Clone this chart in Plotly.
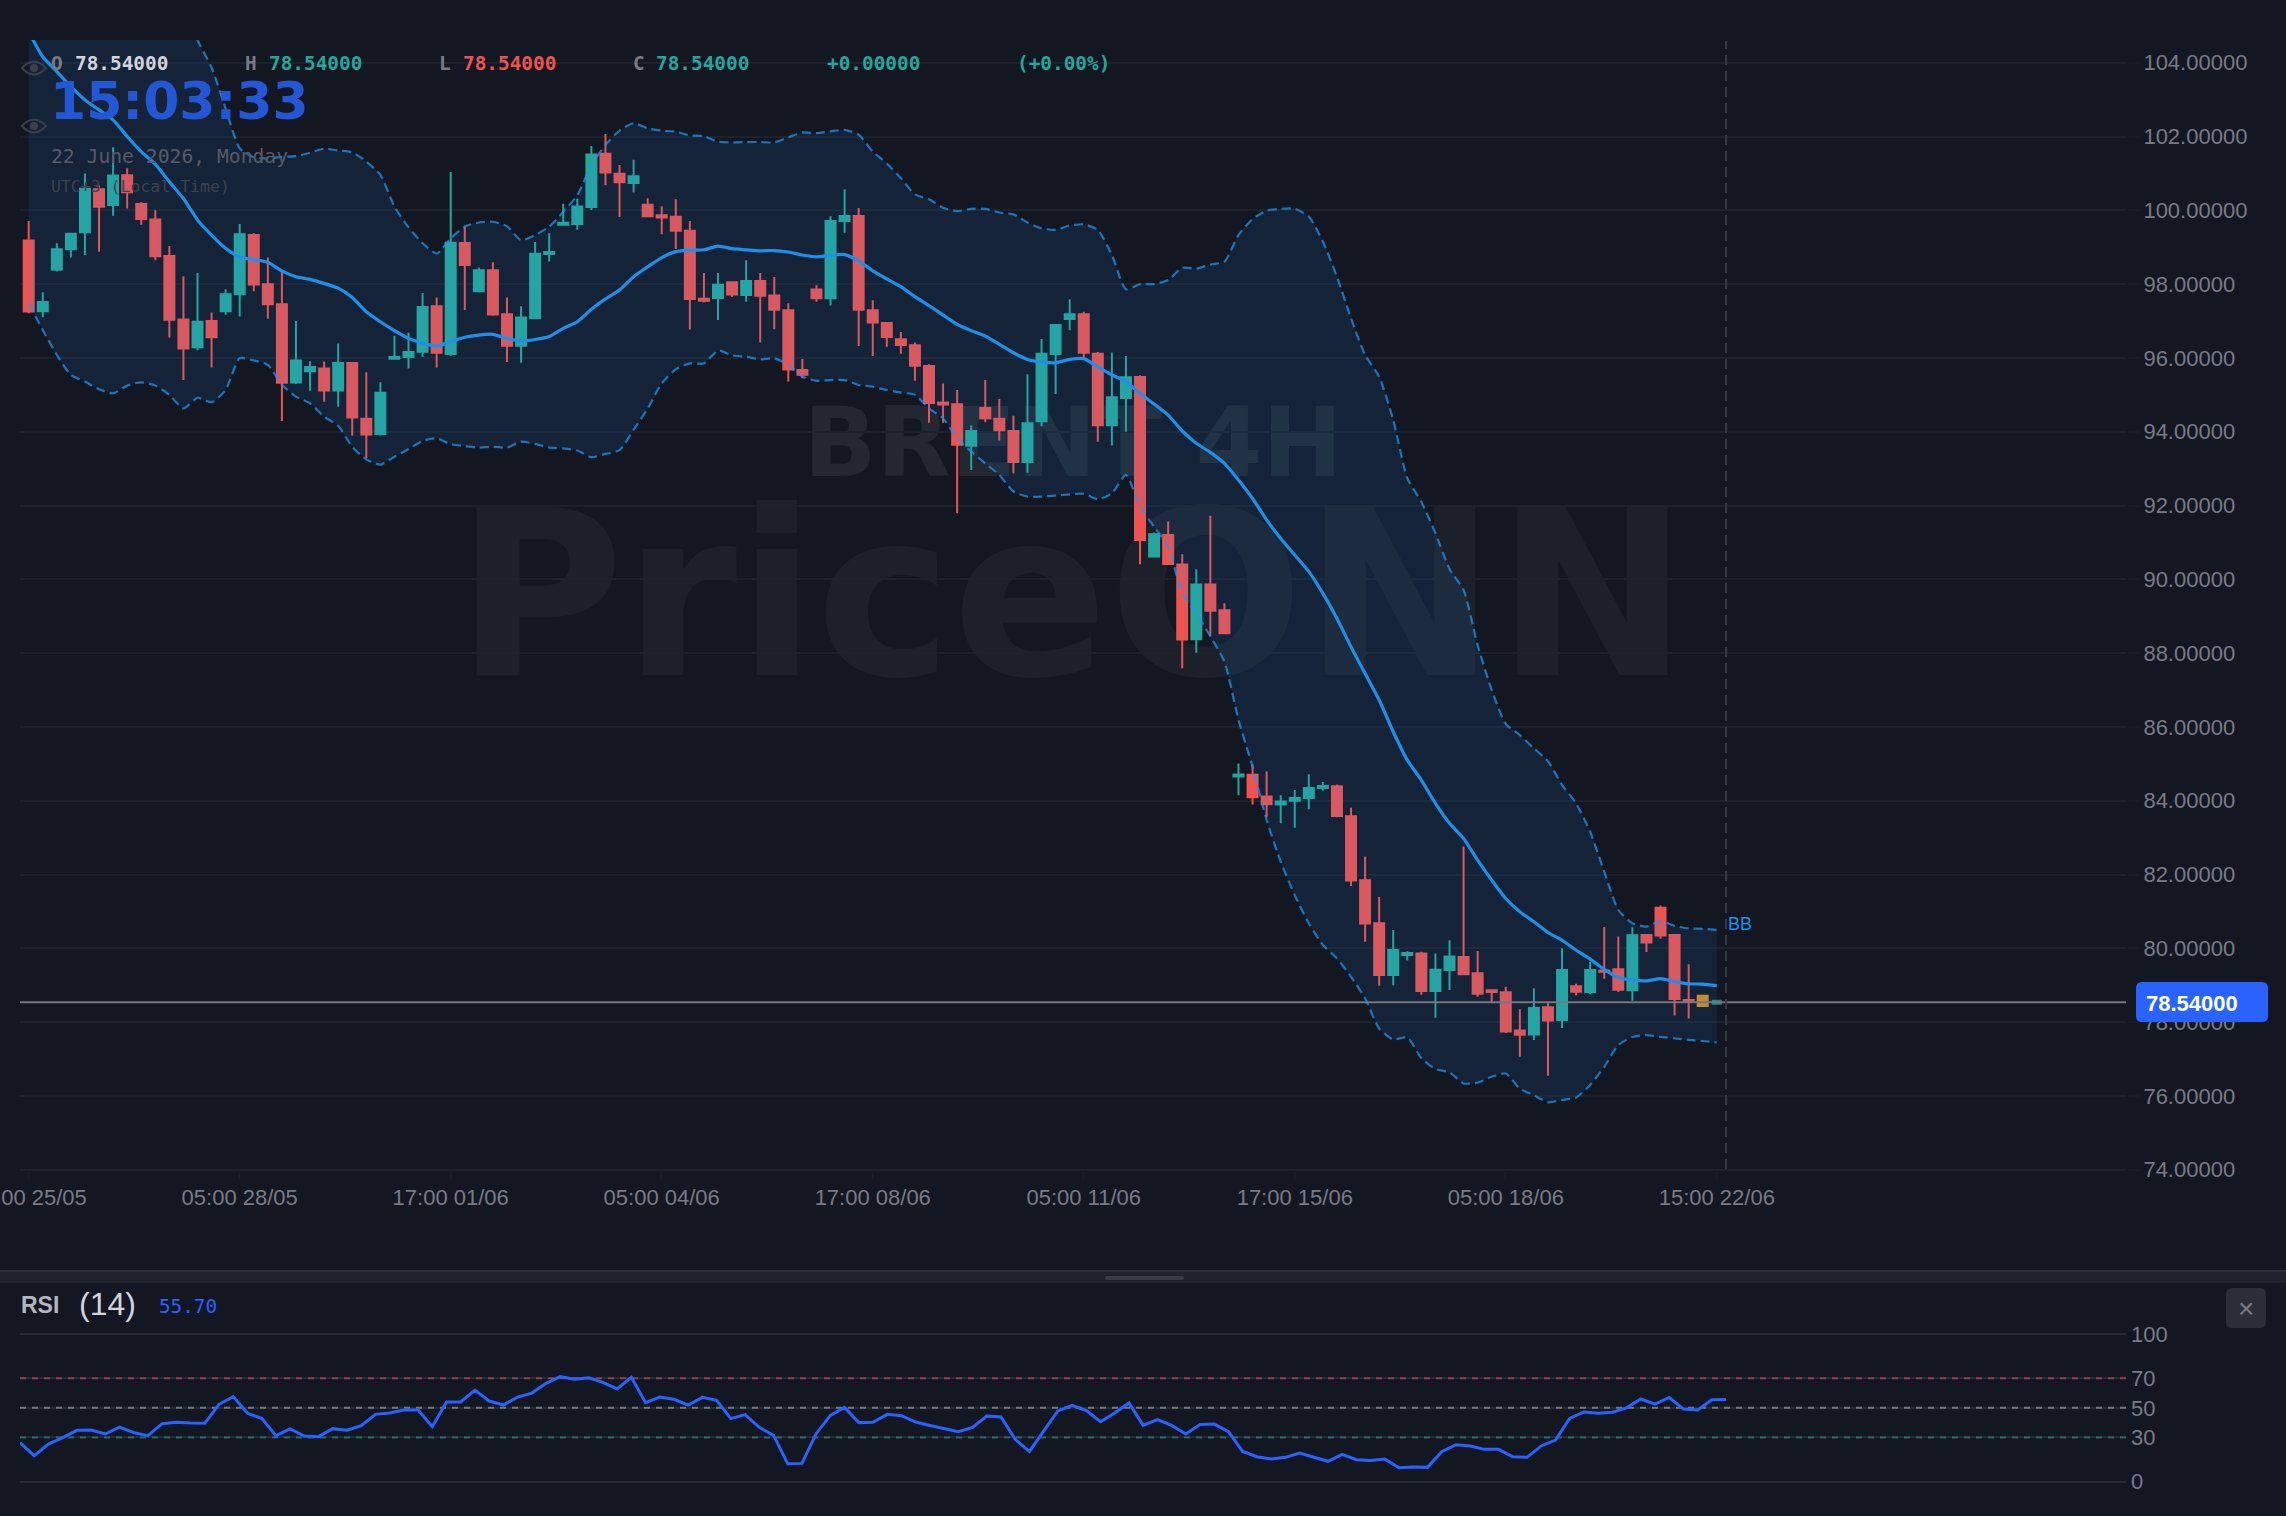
import plotly.graph_objects as go

W, H = 2286, 1516
BG = "#131722"
TEAL = "#26a69a"
RED = "#ef5350"
BLUE = "#2962ff"
BAND = "#1e90ea"
MUTED = "#787b86"

# Candle prices, four-hour bars, oldest first
open_ = [
    99.21, 97.24, 98.36, 98.92, 99.38, 100.60, 100.12, 100.98, 100.20, 99.78,
    98.79, 97.07, 96.26, 97.03, 97.24, 97.70, 99.36, 98.02, 97.48, 95.31,
    95.61, 95.74, 95.09, 95.89, 94.38, 93.91, 95.95, 96.00, 96.14, 97.43,
    96.08, 99.14, 97.78, 98.40, 97.21, 96.30, 97.05, 98.79, 99.58, 99.60,
    100.06, 101.56, 101.02, 100.71, 100.18, 99.89, 99.85, 99.47, 97.63, 97.60,
    98.08, 97.68, 98.11, 97.72, 97.32, 95.70, 97.88, 97.59, 99.68, 99.87,
    97.32, 96.97, 96.53, 96.37, 95.81, 94.82, 94.77, 93.59, 94.67, 94.38,
    94.05, 93.15, 94.26, 96.08, 97.03, 97.21, 96.14, 94.15, 94.89, 95.51,
    90.59, 91.23, 90.43, 88.35, 89.89, 89.19, 84.63, 84.73, 84.14, 83.87,
    83.97, 84.05, 84.32, 84.42, 83.61, 81.87, 80.71, 79.25, 79.79, 79.89,
    78.82, 79.39, 79.79, 79.35, 78.89, 78.84, 77.80, 77.64, 78.43, 78.03,
    79.00, 78.79, 79.43, 79.46, 78.84, 80.39, 81.13, 80.39, 78.63, 78.74,
    78.54,
]
high = [
    99.71, 97.78, 99.11, 99.39, 101.00, 100.67, 101.71, 101.14, 100.22, 100.00,
    99.03, 98.21, 98.30, 97.23, 97.86, 99.63, 99.38, 98.72, 98.38, 97.00,
    95.91, 95.90, 96.39, 95.89, 95.61, 95.34, 96.60, 96.68, 97.76, 97.64,
    101.04, 99.57, 98.45, 98.59, 97.64, 97.40, 99.14, 99.38, 100.18, 100.31,
    101.74, 102.07, 101.23, 101.37, 100.33, 100.11, 100.30, 99.71, 98.30, 98.30,
    98.08, 98.65, 98.30, 98.19, 97.48, 95.97, 97.97, 99.84, 100.57, 100.06,
    97.56, 96.97, 96.70, 96.42, 95.83, 95.31, 95.13, 94.17, 95.40, 94.89,
    94.43, 95.56, 96.51, 96.92, 97.59, 97.25, 96.16, 96.15, 96.05, 95.53,
    91.27, 91.57, 90.68, 90.27, 91.72, 89.35, 85.01, 84.99, 84.79, 84.15,
    84.29, 84.72, 84.51, 84.44, 83.81, 82.49, 81.39, 80.50, 79.92, 79.91,
    79.86, 80.22, 82.76, 79.93, 78.89, 78.96, 78.35, 78.92, 78.51, 80.00,
    79.04, 79.64, 80.58, 80.32, 80.57, 80.39, 81.16, 80.39, 79.57, 78.74,
    78.54,
]
low = [
    97.21, 97.10, 98.34, 98.72, 98.79, 98.88, 99.85, 100.05, 99.61, 98.65,
    96.55, 95.40, 96.21, 95.74, 97.17, 97.12, 97.81, 97.06, 94.29, 95.29,
    95.11, 94.81, 94.68, 93.89, 93.28, 93.90, 95.95, 95.71, 96.03, 95.74,
    96.06, 97.30, 97.77, 97.14, 95.89, 95.87, 97.05, 98.61, 99.58, 99.47,
    100.01, 100.68, 99.82, 100.48, 99.81, 99.35, 98.95, 96.77, 97.50, 97.03,
    97.65, 97.52, 96.42, 96.78, 95.36, 95.45, 97.52, 97.42, 99.39, 96.32,
    96.05, 96.30, 96.11, 95.38, 94.24, 94.24, 91.79, 92.96, 94.26, 93.76,
    92.87, 92.89, 94.15, 95.02, 96.75, 95.99, 93.73, 93.63, 94.00, 90.41,
    90.59, 90.39, 87.59, 88.01, 88.46, 88.51, 84.15, 83.90, 83.55, 83.39,
    83.27, 83.77, 84.27, 83.55, 81.69, 80.18, 78.99, 79.00, 79.67, 78.74,
    78.12, 78.87, 79.27, 78.69, 78.54, 77.71, 77.06, 77.52, 76.55, 77.84,
    78.72, 78.76, 79.18, 78.82, 78.58, 79.90, 80.26, 78.18, 78.10, 78.41,
    78.54,
]
close = [
    97.23, 97.54, 98.97, 99.39, 100.61, 100.07, 100.97, 100.46, 99.74, 98.73,
    97.01, 96.23, 97.01, 96.53, 97.75, 99.38, 97.96, 97.43, 95.30, 95.96,
    95.78, 95.09, 95.89, 94.36, 93.90, 95.08, 96.05, 96.19, 97.41, 96.11,
    99.15, 98.49, 98.40, 97.15, 96.30, 97.12, 98.85, 98.90, 99.69, 100.13,
    101.54, 101.00, 100.73, 100.95, 99.81, 99.78, 99.42, 97.57, 97.52, 98.01,
    97.69, 98.11, 97.66, 97.28, 95.66, 95.52, 97.59, 99.74, 99.87, 97.28,
    96.93, 96.54, 96.32, 95.76, 94.75, 94.71, 93.62, 94.05, 94.34, 94.01,
    93.15, 94.26, 96.14, 96.92, 97.21, 96.11, 94.15, 94.96, 95.50, 91.04,
    91.25, 90.39, 88.34, 89.89, 89.12, 88.51, 84.74, 84.07, 83.88, 84.01,
    84.10, 84.37, 84.43, 83.56, 81.81, 80.65, 79.25, 79.98, 79.90, 78.82,
    79.45, 79.81, 79.27, 78.74, 78.79, 77.72, 77.63, 78.41, 78.02, 79.44,
    78.80, 79.44, 79.34, 78.85, 80.38, 80.13, 80.32, 78.60, 78.55, 78.41,
    78.54,
]

# Bollinger bands (20, 2)
bb_upper = [
    112.20, 111.56, 111.44, 111.16, 110.62, 110.29, 109.86, 108.75, 107.84, 107.25,
    106.54, 106.01, 104.62, 103.87, 102.76, 101.68, 101.44, 101.41, 101.45, 101.47,
    101.56, 101.67, 101.62, 101.57, 101.32, 100.96, 100.10, 99.54, 99.11, 98.83,
    99.24, 99.56, 99.67, 99.69, 99.57, 99.19, 99.33, 99.56, 99.96, 100.41,
    101.23, 101.77, 102.16, 102.36, 102.22, 102.16, 102.13, 102.03, 102.01, 101.86,
    101.84, 101.85, 101.85, 101.84, 101.98, 102.11, 102.09, 102.14, 102.18, 102.05,
    101.59, 101.27, 100.87, 100.43, 100.30, 100.07, 99.98, 100.04, 100.04, 99.94,
    99.89, 99.67, 99.51, 99.47, 99.59, 99.62, 99.47, 98.79, 97.86, 98.00,
    98.00, 98.11, 98.44, 98.42, 98.53, 98.61, 99.33, 99.76, 99.99, 100.04,
    100.04, 99.83, 99.15, 98.20, 97.07, 96.08, 95.49, 94.32, 92.74, 92.10,
    91.25, 90.28, 89.71, 88.22, 87.00, 86.08, 85.78, 85.42, 85.07, 84.43,
    83.93, 83.16, 82.08, 81.04, 80.68, 80.59, 80.74, 80.61, 80.54, 80.53,
    80.50,
]
bb_middle = [
    104.84, 104.16, 103.76, 103.35, 102.99, 102.72, 102.45, 102.00, 101.59, 101.25,
    100.77, 100.32, 99.74, 99.33, 98.97, 98.73, 98.67, 98.59, 98.36, 98.20,
    98.13, 98.02, 97.89, 97.64, 97.25, 96.98, 96.74, 96.53, 96.40, 96.32,
    96.44, 96.56, 96.62, 96.64, 96.53, 96.46, 96.50, 96.58, 96.80, 96.98,
    97.32, 97.60, 97.84, 98.20, 98.47, 98.72, 98.88, 98.92, 98.93, 99.03,
    98.96, 98.93, 98.90, 98.91, 98.87, 98.79, 98.74, 98.78, 98.80, 98.63,
    98.36, 98.14, 97.93, 97.66, 97.42, 97.16, 96.91, 96.74, 96.59, 96.37,
    96.14, 95.96, 95.89, 95.87, 95.96, 95.98, 95.76, 95.54, 95.36, 95.04,
    94.75, 94.45, 94.02, 93.69, 93.44, 93.14, 92.69, 92.19, 91.61, 91.11,
    90.66, 90.21, 89.62, 88.94, 88.17, 87.45, 86.73, 85.87, 85.10, 84.56,
    83.93, 83.39, 82.98, 82.39, 81.85, 81.35, 80.99, 80.72, 80.43, 80.22,
    79.95, 79.71, 79.43, 79.21, 79.14, 79.12, 79.18, 79.10, 79.04, 79.03,
    78.99,
]
bb_lower = [
    97.48, 96.76, 96.08, 95.54, 95.36, 95.15, 95.04, 95.25, 95.34, 95.25,
    95.00, 94.63, 94.92, 94.80, 95.13, 95.99, 95.93, 95.81, 95.27, 94.95,
    94.77, 94.41, 94.16, 93.59, 93.25, 93.11, 93.32, 93.53, 93.75, 93.82,
    93.66, 93.61, 93.57, 93.59, 93.57, 93.73, 93.67, 93.57, 93.55, 93.49,
    93.31, 93.40, 93.50, 94.05, 94.63, 95.31, 95.69, 95.85, 95.85, 96.20,
    96.07, 96.03, 95.96, 95.99, 95.81, 95.49, 95.38, 95.40, 95.40, 95.27,
    95.22, 95.13, 95.06, 95.00, 94.63, 94.36, 93.82, 93.46, 93.14, 92.83,
    92.38, 92.24, 92.24, 92.27, 92.30, 92.32, 92.17, 92.33, 92.83, 91.97,
    91.43, 90.88, 89.62, 89.08, 88.45, 87.77, 86.19, 84.92, 83.48, 82.35,
    81.44, 80.68, 80.09, 79.73, 79.23, 78.64, 77.83, 77.53, 77.59, 77.02,
    76.73, 76.64, 76.34, 76.36, 76.52, 76.61, 76.20, 76.02, 75.83, 75.89,
    75.96, 76.30, 76.79, 77.38, 77.60, 77.65, 77.60, 77.56, 77.52, 77.49,
    77.45,
]

rsi = [
    26.4, 17.6, 25.5, 29.8, 34.8, 35.0, 32.3, 37.0, 33.2, 31.2,
    39.3, 40.2, 39.7, 39.5, 52.4, 57.6, 46.3, 42.9, 31.2, 35.7,
    30.9, 30.5, 35.9, 34.8, 37.9, 45.6, 46.5, 48.5, 48.5, 37.2,
    54.0, 54.0, 62.0, 54.6, 51.9, 57.3, 60.0, 66.6, 71.1, 69.3,
    70.4, 67.3, 62.8, 70.7, 53.5, 57.3, 55.8, 51.9, 57.1, 55.1,
    42.7, 45.4, 36.8, 31.4, 12.2, 12.4, 32.5, 44.9, 50.3, 40.0,
    40.2, 45.6, 44.7, 40.4, 38.1, 35.9, 33.9, 36.8, 44.5, 43.8,
    28.7, 20.5, 33.9, 47.9, 51.7, 48.1, 40.6, 46.5, 53.3, 38.1,
    42.0, 38.1, 32.3, 38.8, 39.0, 33.9, 20.5, 16.9, 15.3, 16.5,
    19.4, 16.7, 13.8, 18.5, 14.9, 14.4, 15.3, 9.5, 9.9, 9.7,
    20.3, 25.0, 24.2, 21.9, 21.9, 16.9, 16.5, 24.2, 28.2, 42.9,
    47.2, 46.4, 47.0, 50.0, 56.0, 52.5, 57.0, 49.2, 48.6, 55.5,
    55.70,
]

x_tick_bars = [0, 15, 30, 45, 60, 75, 90, 105, 120]
x_tick_labels = ["17:00 25/05", "05:00 28/05", "17:00 01/06", "05:00 04/06", "17:00 08/06",
                 "05:00 11/06", "17:00 15/06", "05:00 18/06", "15:00 22/06"]
price_ticks = [74, 76, 78, 80, 82, 84, 86, 88, 90, 92, 94, 96, 98, 100, 102, 104]
rsi_ticks = [0, 30, 50, 70, 100]
rsi_levels = {70: "rgba(239,83,80,0.55)", 50: "rgba(150,152,162,0.7)", 30: "rgba(38,166,154,0.55)"}
last_price = 78.54
cursor_bar = 120.66

bars = list(range(len(open_)))
assert all(len(s) == 121 for s in (open_, high, low, close, bb_upper, bb_middle, bb_lower, rsi))


def px(x):
    return x / W


def py(y):
    return 1 - y / H


# The 2px candle outline straddles the body edge, so pull the body in by half its width
HALF_STROKE = 0.027


def body(o, c):
    return (o + HALF_STROKE, c - HALF_STROKE) if c >= o else (o - HALF_STROKE, c + HALF_STROKE)


bodies = [body(o, c) for o, c in zip(open_, close)]
fig = go.Figure()

N_REGULAR = 119
fig.add_trace(go.Candlestick(
    x=bars[:N_REGULAR], open=[b[0] for b in bodies[:N_REGULAR]], high=high[:N_REGULAR],
    low=low[:N_REGULAR], close=[b[1] for b in bodies[:N_REGULAR]],
    increasing=dict(line=dict(color=TEAL, width=2), fillcolor=TEAL),
    decreasing=dict(line=dict(color=RED, width=2), fillcolor=RED),
    hoverinfo="skip", showlegend=False))
# The bar before the live one stands out in amber
fig.add_trace(go.Candlestick(
    x=[bars[119]], open=[bodies[119][0]], high=[high[119]], low=[low[119]], close=[bodies[119][1]],
    increasing=dict(line=dict(color="#da8a1b", width=2), fillcolor="#da8a1b"),
    decreasing=dict(line=dict(color="#da8a1b", width=2), fillcolor="#da8a1b"),
    hoverinfo="skip", showlegend=False))
# Live bar: all four prices are equal, so its thickness comes from the stroke
fig.add_trace(go.Candlestick(
    x=[bars[120]], open=[open_[120]], high=[high[120]], low=[low[120]], close=[close[120]],
    increasing=dict(line=dict(color="rgba(38,166,154,0.78)", width=5), fillcolor="rgba(38,166,154,0.78)"),
    decreasing=dict(line=dict(color="rgba(38,166,154,0.78)", width=5), fillcolor="rgba(38,166,154,0.78)"),
    hoverinfo="skip", showlegend=False))

band_line = dict(color="rgba(33,150,243,0.72)", width=2.2, dash="9px,5px", shape="spline", smoothing=0.6)
fig.add_trace(go.Scatter(x=bars, y=bb_upper, mode="lines", line=band_line, hoverinfo="skip", showlegend=False))
fig.add_trace(go.Scatter(x=bars, y=bb_lower, mode="lines", line=band_line, fill="tonexty",
                         fillcolor="rgba(33,150,243,0.1)", hoverinfo="skip", showlegend=False))
fig.add_trace(go.Scatter(x=bars, y=bb_middle, mode="lines",
                         line=dict(color=BAND, width=3.2, shape="spline", smoothing=0.6),
                         hoverinfo="skip", showlegend=False))

# RSI pane
for level, colour in rsi_levels.items():
    fig.add_trace(go.Scatter(x=[0, 148.13], y=[level, level], xaxis="x2", yaxis="y2", mode="lines",
                             line=dict(color=colour, width=2, dash="6px,6px"),
                             hoverinfo="skip", showlegend=False))
fig.add_trace(go.Scatter(x=bars, y=rsi, xaxis="x2", yaxis="y2", mode="lines",
                         line=dict(color=BLUE, width=3), hoverinfo="skip", showlegend=False))


def rounded(x0, y0, x1, y1, r):
    a, b, c, d = px(x0), px(x1), py(y0), py(y1)
    rx, ry = r / W, r / H
    return (f"M {a + rx},{c} L {b - rx},{c} Q {b},{c} {b},{c - ry} L {b},{d + ry} Q {b},{d} {b - rx},{d} "
            f"L {a + rx},{d} Q {a},{d} {a},{d + ry} L {a},{c - ry} Q {a},{c} {a + rx},{c} Z")


def eye(cx, cy):
    left, right = px(cx - 12), px(cx + 12)
    mid, up, down = py(cy), py(cy - 13), py(cy + 13)
    return [
        dict(type="path", xref="paper", yref="paper", path=f"M {left},{mid} Q {px(cx)},{up} {right},{mid} Q {px(cx)},{down} {left},{mid} Z",
             line=dict(color="#3a3f4b", width=2), fillcolor="rgba(0,0,0,0)"),
        dict(type="circle", xref="paper", yref="paper", x0=px(cx - 4), x1=px(cx + 4), y0=py(cy - 4), y1=py(cy + 4),
             line=dict(width=0), fillcolor="#3a3f4b"),
    ]


def watermark(text, cx, cy, size, colour):
    return dict(type="rect", xref="paper", yref="paper", layer="below",
                x0=px(cx - 700), x1=px(cx + 700), y0=py(cy - 150), y1=py(cy + 150),
                line=dict(width=0), fillcolor="rgba(0,0,0,0)",
                label=dict(text=text, textposition="middle center",
                           font=dict(family="DejaVu Sans", size=size, color=colour, weight="bold")))


shapes = [
    watermark("PriceONN", 1072, 578, 230, "rgba(255,255,255,0.04)"),
    watermark("BRENT 4H", 1073, 436, 96, "rgba(255,255,255,0.07)"),
    # Live price line and crosshair
    dict(type="line", xref="x", yref="y", x0=-0.62, x1=149.09, y0=last_price, y1=last_price,
         line=dict(color="#75777f", width=2)),
    dict(type="line", xref="x", yref="paper", x0=cursor_bar, x1=cursor_bar, y0=py(1169), y1=py(41),
         line=dict(color="#363a45", width=2, dash="10px,6px")),
    dict(type="path", xref="paper", yref="paper", path=rounded(2136, 982, 2268, 1022, 6),
         line=dict(width=0), fillcolor=BLUE),
    # Pane divider and its drag handle
    dict(type="rect", xref="paper", yref="paper", x0=0, x1=1, y0=py(1283), y1=py(1270),
         line=dict(width=0), fillcolor="#1e222d"),
    dict(type="rect", xref="paper", yref="paper", x0=0, x1=1, y0=py(1272), y1=py(1270),
         line=dict(width=0), fillcolor="#2a2e39"),
    dict(type="path", xref="paper", yref="paper", path=rounded(1105, 1276, 1184, 1280, 2),
         line=dict(width=0), fillcolor="#363a45"),
    # RSI close button
    dict(type="path", xref="paper", yref="paper", path=rounded(2226, 1288, 2266, 1328, 6),
         line=dict(width=0), fillcolor="#2a2e39"),
] + eye(34, 68) + eye(34, 126)


def label(text, x, y, size, colour, family="DejaVu Sans Mono", weight="normal", anchor="left"):
    return dict(text=text, x=px(x), y=py(y), xref="paper", yref="paper", xanchor=anchor, yanchor="middle",
                showarrow=False, borderpad=0,
                font=dict(family=family, size=size, color=colour, weight=weight))


MONO = "DejaVu Sans Mono"
SANS = "Liberation Sans"
annotations = [
    label("O", 50, 63, 19.4, MUTED, MONO, "bold"),
    label("78.54000", 74, 63, 19.4, "#d1d4dc", MONO, "bold"),
    label("H", 244, 63, 19.4, MUTED, MONO, "bold"),
    label("78.54000", 268, 63, 19.4, TEAL, MONO, "bold"),
    label("L", 438, 63, 19.4, MUTED, MONO, "bold"),
    label("78.54000", 462, 63, 19.4, RED, MONO, "bold"),
    label("C", 632, 63, 19.4, MUTED, MONO, "bold"),
    label("78.54000", 655, 63, 19.4, TEAL, MONO, "bold"),
    label("+0.00000", 826, 63, 19.4, TEAL, MONO, "bold"),
    label("(+0.00%)", 1016, 63, 19.4, TEAL, MONO, "bold"),
    label("15:03:33", 49, 101, 52, "#2457d6", "DejaVu Sans", "bold"),
    label("22 June 2026, Monday", 50, 157, 19.7, "#565b67"),
    label("UTC+3 (Local Time)", 50, 186, 16.5, "#3c424f"),
    label("BB", 1727, 924, 18, BAND, SANS),
    label("78.54000", 2145, 1003, 22, "#ffffff", SANS, "bold"),
    label("RSI", 20, 1305, 23, "#b2b5be", SANS, "bold"),
    label("(14)", 78, 1304, 32, "#d1d4dc", SANS),
    label("55.70", 158, 1306, 19.3, BLUE),
    label("×", 2246, 1308, 28, MUTED, SANS, anchor="center"),
]

fig.update_layout(
    width=W, height=H, autosize=False,
    margin=dict(l=0, r=0, t=0, b=0, autoexpand=False),
    paper_bgcolor=BG, plot_bgcolor="rgba(0,0,0,0)",
    showlegend=False, boxgap=0.29, boxgroupgap=0, hovermode=False,
    shapes=shapes, annotations=annotations,
    xaxis=dict(domain=[px(20), px(2126)], range=[-0.618, 149.09], anchor="y",
               rangeslider=dict(visible=False), showgrid=False, zeroline=False, showline=False,
               tickmode="array", tickvals=x_tick_bars, ticktext=x_tick_labels,
               ticks="outside", ticklen=6, tickwidth=1, tickcolor="#1c2029",
               ticklabeloverflow="allow",
               tickfont=dict(family=SANS, size=22, color=MUTED), tickangle=0),
    yaxis=dict(domain=[py(1172), py(40)], range=[73.94, 104.615], anchor="x", side="right",
               tickmode="array", tickvals=price_ticks, tickformat=".5f",
               showgrid=True, gridcolor="#1c212b", gridwidth=2, zeroline=False, showline=False,
               ticks="outside", ticklen=12, tickwidth=2, tickcolor="#171b25",
               tickfont=dict(family=SANS, size=22, color=MUTED)),
    xaxis2=dict(domain=[px(20), px(2126)], range=[0, 148.13], anchor="y2", visible=False),
    yaxis2=dict(domain=[py(1484), py(1332)], range=[-1.56, 101.35], anchor="x2", side="right",
                tickmode="array", tickvals=rsi_ticks, ticklabelstandoff=4,
                showgrid=True, gridcolor="#262a35", gridwidth=2, zeroline=False, showline=False,
                tickfont=dict(family=SANS, size=22, color=MUTED)),
)

fig.write_html("out.html")
